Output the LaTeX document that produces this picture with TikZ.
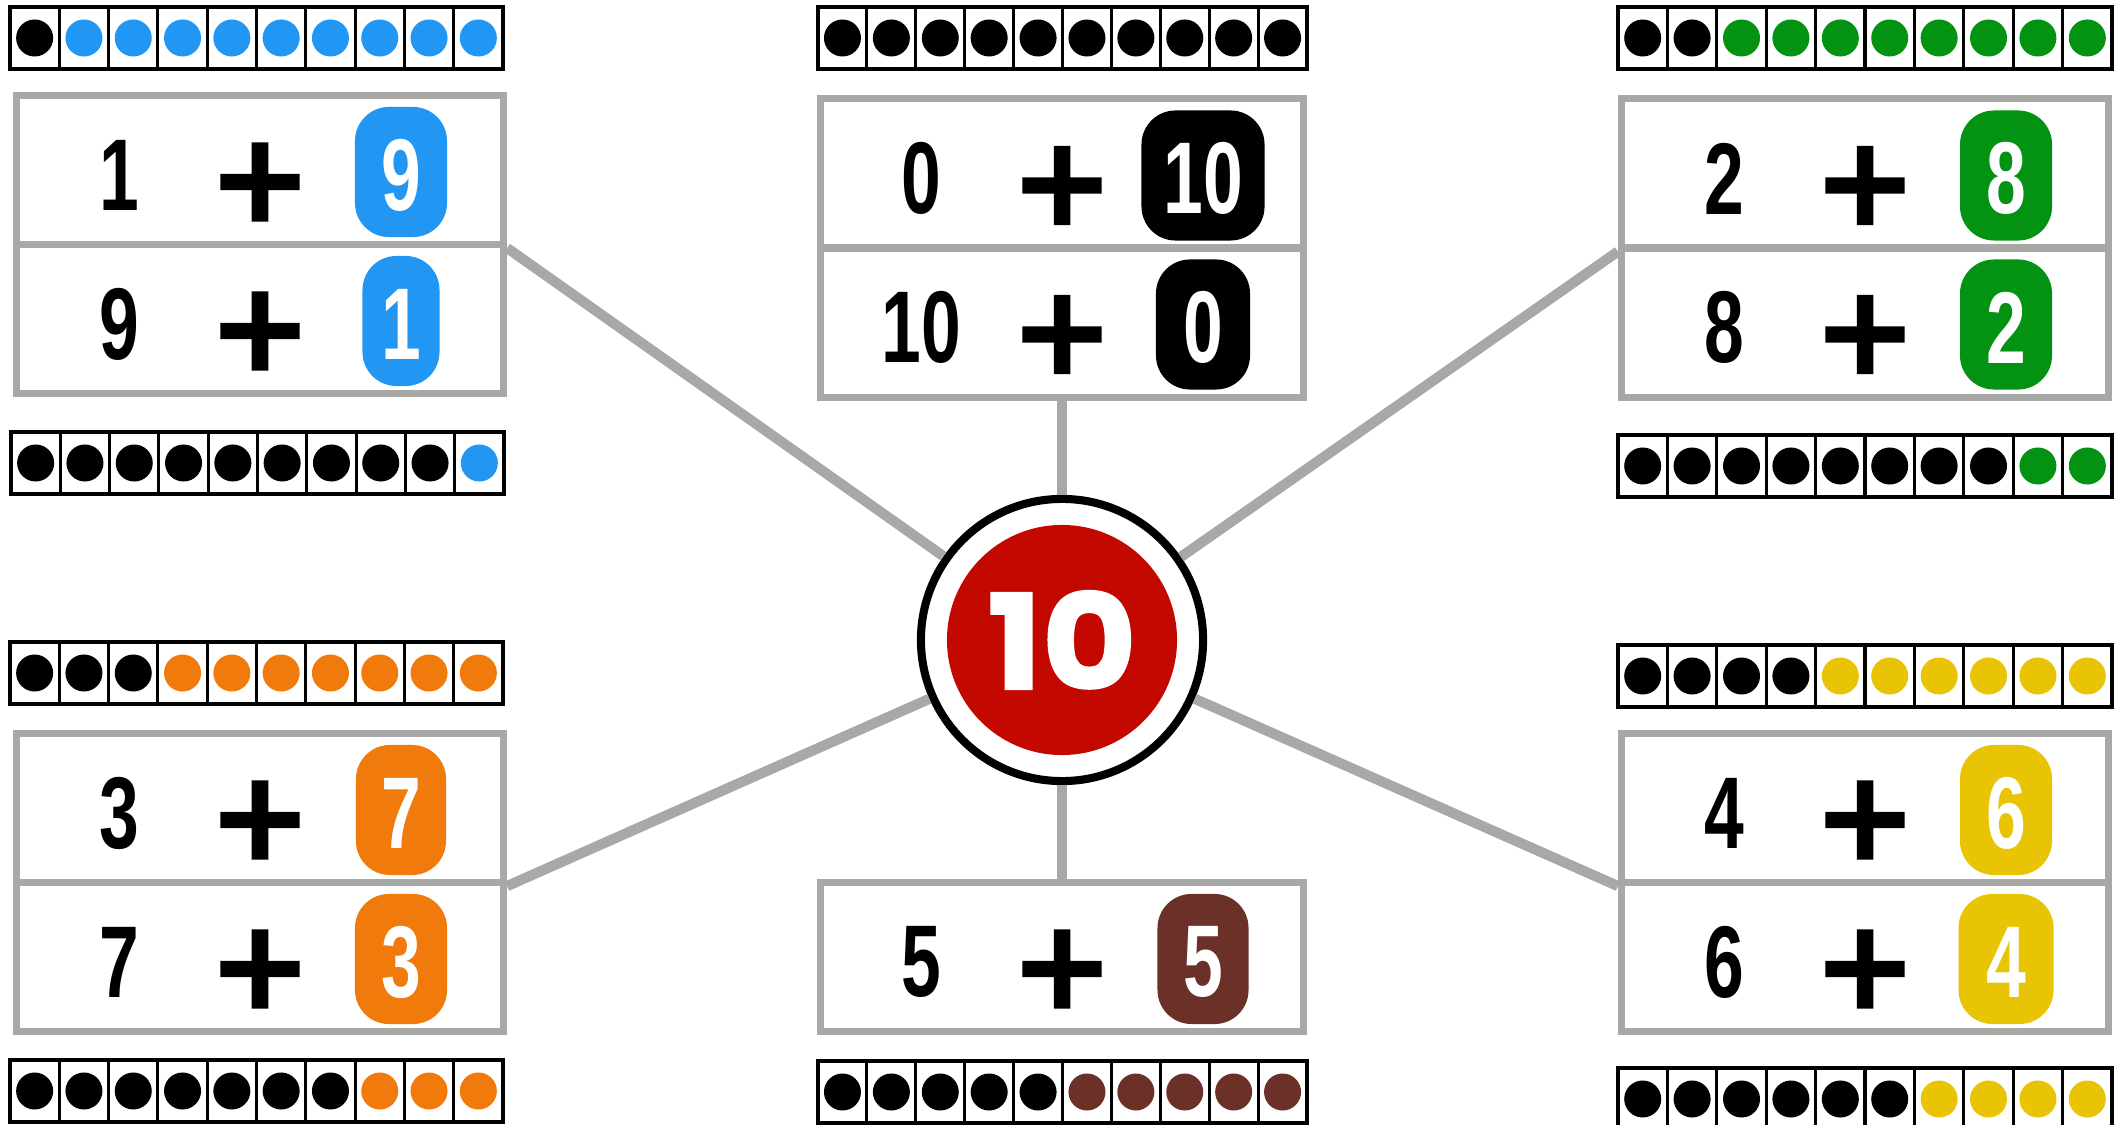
\documentclass[tikz,border=0pt]{standalone}
\usepackage{fontspec}
\newfontfamily\numfont{Liberation Sans}[FakeStretch=0.70]
\newfontfamily\plusfont{DejaVu Sans}[BoldFeatures={FakeBold=1.8}]
\newfontfamily\ctrfont{Poppins}[FakeStretch=1.1, BoldFeatures={FakeBold=1.6}]
\definecolor{tenblue}{RGB}{33,150,243}
\definecolor{tengreen}{RGB}{3,146,18}
\definecolor{tenorange}{RGB}{240,122,12}
\definecolor{tenyellow}{RGB}{233,196,4}
\definecolor{tenbrown}{RGB}{107,48,40}
\definecolor{tenred}{RGB}{195,8,0}
\definecolor{boxgray}{RGB}{168,168,166}
\tikzset{
  numtxt/.style={font=\numfont\bfseries\fontsize{29pt}{30pt}\selectfont, inner sep=0pt},
  plustxt/.style={font=\plusfont\bfseries\fontsize{35pt}{37pt}\selectfont, inner sep=0pt},
  badge/.style={rounded corners=0.34cm, fill=#1, minimum height=1.30cm, inner sep=0pt},
  eqbox/.style={draw=boxgray, line width=2pt, minimum height=1.49cm, inner sep=0pt},
  link/.style={draw=boxgray, line width=2.9pt},
  frameline/.style={draw=black, line width=0.9pt},
}
% #1 name, #2 cx, #3 cy, #4 box width, #5 left number, #6 right number, #7 colour, #8 badge width, #9 offset
\newcommand{\eqrow}[9]{%
  \node[eqbox, minimum width=#4] (#1) at (#2,#3) {};
  \node[numtxt] (#1a) at ({#2-#9},{#3+5}) {#5};
  \node[plustxt] (#1p) at (#2,{#3+12}) {+};
  \node[badge=#7, minimum width=#8] (#1b) at ({#2+#9},{#3+2}) {};
  \node[numtxt, text=white] (#1c) at ({#2+#9},{#3+5}) {#6};
}
% #1 left x, #2 top y, #3 width, #4 number of black dots, #5 colour
\newcommand{\tenfr}[5]{%
  \foreach \i in {0,...,9}{%
    \ifnum\i<#4\relax\def\dotcol{black}\else\def\dotcol{#5}\fi
    \fill[\dotcol] ({#1+(\i+0.5)*#3/10},{#2+31}) circle[radius=0.185cm];
  }
  \draw[frameline] (#1,#2) rectangle ++(#3,62);
  \foreach \i in {1,...,9}{\draw[frameline] ({#1+\i*#3/10},#2) -- ++(0,62);}
}
\begin{document}
\begin{tikzpicture}[x=0.01cm,y=-0.01cm]
\fill[white] (0,0) rectangle (2128,1125);
\useasboundingbox (0,0) rectangle (2128,1125);

% centre
\node[circle, draw=black, line width=2.3pt, fill=white, minimum size=2.82cm, inner sep=0pt] (c) at (1062,640) {};
\node[circle, fill=tenred, minimum size=2.30cm, inner sep=0pt, text=white,
      font=\ctrfont\bfseries\fontsize{37.5pt}{39pt}\selectfont] (ten) at (1062,640) {10};

% top left
\tenfr{10}{7}{493}{1}{tenblue}
\eqrow{tl1}{260}{170}{4.87cm}{1}{9}{tenblue}{0.92cm}{141}
\eqrow{tl2}{260}{319}{4.87cm}{9}{1}{tenblue}{0.77cm}{141}
\tenfr{11}{432}{493}{9}{tenblue}

% top centre
\tenfr{818}{7}{489}{10}{black}
\eqrow{tc1}{1062}{173.5}{4.82cm}{0}{10}{black}{1.23cm}{141}
\eqrow{tc2}{1062}{322.5}{4.82cm}{10}{0}{black}{0.94cm}{141}

% top right
\tenfr{1618}{7}{494}{2}{tengreen}
\eqrow{tr1}{1865}{173.5}{4.87cm}{2}{8}{tengreen}{0.92cm}{141}
\eqrow{tr2}{1865}{322.5}{4.87cm}{8}{2}{tengreen}{0.92cm}{141}
\tenfr{1618}{435}{494}{8}{tengreen}

% bottom left
\tenfr{10}{642}{493}{3}{tenorange}
\eqrow{bl1}{260}{808}{4.87cm}{3}{7}{tenorange}{0.90cm}{141}
\eqrow{bl2}{260}{957}{4.87cm}{7}{3}{tenorange}{0.92cm}{141}
\tenfr{10}{1060}{493}{7}{tenorange}

% bottom centre
\eqrow{bc1}{1062}{957}{4.82cm}{5}{5}{tenbrown}{0.91cm}{141}
\tenfr{818}{1061}{489}{5}{tenbrown}

% bottom right
\tenfr{1618}{645}{494}{4}{tenyellow}
\eqrow{br1}{1865}{808}{4.87cm}{4}{6}{tenyellow}{0.92cm}{141}
\eqrow{br2}{1865}{957}{4.87cm}{6}{4}{tenyellow}{0.95cm}{141}
\tenfr{1618}{1068}{494}{6}{tenyellow}

% connectors
\draw[link] (c) -- (tl1.south east);
\draw[link] (c) -- (tc2.south);
\draw[link] (c) -- (tr1.south west);
\draw[link] (c) -- (bl1.south east);
\draw[link] (c) -- (bc1.north);
\draw[link] (c) -- (br1.south west);
\end{tikzpicture}
\end{document}
